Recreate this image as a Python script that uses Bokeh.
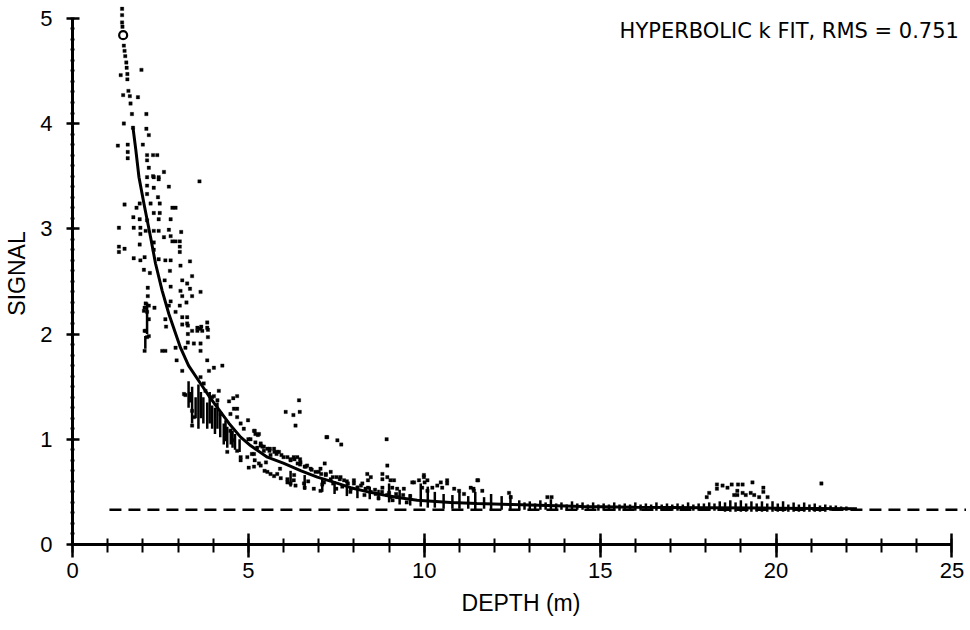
from bokeh.plotting import figure
from bokeh.models import LinearAxis, FixedTicker, Range1d, Label
from bokeh.embed import file_html
from bokeh.resources import INLINE

# ---------------- data ----------------
# fitted hyperbolic curve
curve_x = [1.72, 1.80, 1.89, 2.03, 2.22, 2.36, 2.55, 2.74, 3.07, 3.30, 3.64, 3.90, 4.12, 4.45,
           4.78, 5.06, 5.54, 6.01, 6.50, 6.96, 7.45, 7.91, 8.40, 8.85, 9.30, 9.80, 10.75, 11.5,
           12.5, 13.5, 14.5, 16.0, 18.0, 20.0, 22.3]
curve_y = [3.96, 3.75, 3.49, 3.24, 2.92, 2.67, 2.41, 2.19, 1.87, 1.70, 1.53, 1.40, 1.30, 1.15,
           1.02, 0.94, 0.83, 0.77, 0.70, 0.64, 0.59, 0.54, 0.50, 0.47, 0.445, 0.42, 0.40, 0.39,
           0.38, 0.37, 0.36, 0.355, 0.35, 0.345, 0.34]

# first sample (open circle)
first_x = [1.44]
first_y = [4.84]

# background level (dashed)
base_level = 0.33
base_x = [1.05, 25.4]

# measured samples, shallow column
top_column = [(1.41, 5.09), (1.41, 5.03), (1.41, 4.96), (1.42, 4.92), (1.46, 4.74), (1.48, 4.69),
              (1.50, 4.64), (1.53, 4.58), (1.54, 4.53), (1.56, 4.47), (1.56, 4.42), (1.59, 4.31),
              (1.63, 4.26), (1.65, 4.19), (1.69, 4.09), (1.72, 3.96)]

scatter_upper = [(1.96, 4.51), (1.37, 4.46), (1.44, 4.27), (1.86, 4.25), (2.10, 4.09), (1.46, 4.00),
                 (2.10, 3.95), (2.17, 3.89), (1.29, 3.79), (1.57, 3.80), (2.00, 3.80), (1.57, 3.73),
                 (1.57, 3.67), (2.12, 3.70), (2.29, 3.70), (2.41, 3.70), (2.12, 3.65), (2.17, 3.58),
                 (2.60, 3.54), (2.29, 3.50), (2.45, 3.49), (2.12, 3.49), (2.31, 3.49), (2.45, 3.47),
                 (2.74, 3.40), (3.61, 3.45), (2.12, 3.41), (2.31, 3.39), (2.12, 3.33), (2.43, 3.30),
                 (1.48, 3.23), (1.91, 3.24), (2.22, 3.24), (2.48, 3.24), (1.82, 3.20), (2.31, 3.15),
                 (2.48, 3.15), (2.84, 3.20), (2.93, 3.20), (2.79, 3.09), (1.73, 3.11), (1.91, 3.09),
                 (2.12, 3.08), (2.45, 3.09), (1.32, 3.01), (1.74, 3.01), (1.93, 3.01), (2.08, 2.98),
                 (2.31, 2.98), (2.45, 2.98), (2.74, 2.99), (3.09, 2.97), (1.93, 2.95), (2.60, 2.92),
                 (2.79, 2.93), (2.84, 2.88), (2.93, 2.88), (3.05, 2.88), (1.32, 2.83), (1.48, 2.81),
                 (1.91, 2.85), (2.31, 2.87), (1.32, 2.78), (1.74, 2.72), (1.93, 2.70), (2.05, 2.73),
                 (2.31, 2.80), (2.45, 2.71), (2.64, 2.70), (2.79, 2.70), (3.05, 2.83), (3.05, 2.78),
                 (3.07, 2.65), (3.34, 2.69), (2.03, 2.61), (2.20, 2.58), (2.77, 2.60), (2.62, 2.51),
                 (3.12, 2.51), (3.26, 2.48), (3.40, 2.55), (2.79, 2.45), (3.07, 2.41), (3.34, 2.43),
                 (3.40, 2.36), (3.64, 2.40), (3.12, 2.36), (2.14, 2.44), (2.14, 2.36), (2.05, 2.25),
                 (2.17, 2.27), (2.33, 2.25), (2.03, 2.22), (2.17, 2.14), (2.79, 2.31), (2.74, 2.27),
                 (3.05, 2.27), (3.24, 2.30), (2.93, 2.21), (3.12, 2.16), (3.26, 2.16), (2.64, 2.14),
                 (3.12, 2.09), (3.28, 2.08), (3.55, 2.06), (3.66, 2.07), (3.83, 2.11), (3.28, 2.00),
                 (3.40, 2.03), (3.55, 2.03), (3.69, 2.03), (3.85, 2.04), (2.08, 2.03), (2.17, 1.98),
                 (2.66, 2.07), (3.28, 1.92), (3.45, 1.91), (3.64, 1.91), (3.85, 1.97)]

scatter_mid = [(2.08, 2.29), (2.12, 2.21), (2.05, 2.03), (2.05, 1.84), (2.55, 1.84), (2.64, 1.84),
               (2.12, 1.97), (2.93, 1.87), (2.96, 1.75), (3.12, 1.65), (3.17, 1.43), (3.40, 1.27),
               (3.40, 1.13), (3.45, 1.21), (3.78, 1.46), (3.97, 1.40), (4.12, 1.37), (4.21, 1.24),
               (4.45, 1.36), (4.57, 1.39), (4.68, 1.41), (4.68, 1.29), (4.49, 1.24), (4.78, 1.15),
               (4.99, 1.18), (4.87, 1.10), (5.16, 1.08), (5.30, 1.05), (5.06, 1.00), (4.49, 1.08),
               (4.54, 0.99), (4.68, 0.89), (4.78, 0.83), (4.97, 0.83), (5.35, 0.96), (5.44, 0.93),
               (5.54, 0.91), (5.73, 0.91), (5.87, 0.88), (6.11, 0.83), (6.29, 0.83), (6.39, 0.83),
               (5.16, 0.86), (6.44, 1.37), (6.06, 1.26), (6.28, 1.23), (6.46, 1.26), (6.34, 1.13),
               (7.22, 1.02), (4.68, 1.21), (3.26, 2.10), (3.64, 2.05), (3.83, 2.06), (3.21, 1.87),
               (3.64, 1.84), (3.83, 1.75), (4.02, 1.68), (4.26, 1.70), (3.88, 1.65), (3.64, 1.59),
               (3.73, 1.53), (4.16, 1.46), (4.02, 1.41), (4.59, 1.29), (5.20, 1.05), (3.21, 1.42),
               (4.40, 0.88), (4.78, 0.80), (5.01, 0.73), (5.35, 0.75), (5.54, 0.69), (5.82, 0.67),
               (6.11, 0.62), (6.29, 0.61), (6.58, 0.58), (6.86, 0.53), (7.05, 0.51), (7.15, 0.59),
               (5.25, 0.92), (5.44, 0.89), (5.82, 0.88), (6.48, 0.78), (6.67, 0.75)]

# samples hugging the fitted curve, 5-10 m
scatter_band = [(5.0, 1.00), (5.2, 0.97), (5.4, 0.93), (5.6, 0.89), (5.8, 0.86), (6.0, 0.83),
                (6.2, 0.80), (6.4, 0.77), (6.6, 0.74), (6.8, 0.71), (7.0, 0.69), (7.2, 0.66),
                (7.4, 0.64), (7.6, 0.62), (7.8, 0.60), (8.0, 0.58), (8.2, 0.56), (8.4, 0.54),
                (8.6, 0.52), (8.8, 0.50), (9.0, 0.49), (9.2, 0.48), (9.4, 0.47), (9.6, 0.46),
                (5.1, 0.86), (5.5, 0.78), (5.9, 0.72), (6.3, 0.66), (6.7, 0.60), (7.1, 0.57),
                (7.5, 0.53), (7.9, 0.50), (8.3, 0.47), (8.7, 0.44), (9.1, 0.42), (9.5, 0.40)]

scatter_low = [(7.24, 1.02), (7.53, 0.99), (7.64, 0.95), (8.93, 1.00), (8.95, 0.75), (5.18, 1.08),
               (5.27, 1.04), (5.35, 0.94), (5.61, 0.91), (5.74, 0.88), (5.94, 0.85), (5.63, 0.85),
               (6.20, 0.81), (6.31, 0.81), (6.47, 0.81), (6.47, 0.76), (5.18, 0.80), (5.30, 0.77),
               (5.16, 0.74), (5.46, 0.70), (5.63, 0.67), (5.73, 0.65), (5.92, 0.63), (6.11, 0.59),
               (6.20, 0.58), (6.34, 0.56), (6.60, 0.54), (6.63, 0.74), (6.77, 0.72), (6.91, 0.69),
               (7.05, 0.72), (7.17, 0.77), (7.07, 0.67), (7.20, 0.67), (7.34, 0.69), (7.34, 0.62),
               (7.41, 0.58), (7.51, 0.64), (7.62, 0.64), (7.72, 0.61), (7.67, 0.55), (7.83, 0.58),
               (7.91, 0.53), (8.00, 0.61), (8.10, 0.54), (8.24, 0.58), (8.38, 0.67), (8.48, 0.64),
               (8.40, 0.61), (8.33, 0.53), (8.48, 0.50), (8.62, 0.48), (8.81, 0.67), (8.81, 0.62),
               (8.95, 0.64), (9.04, 0.61), (9.14, 0.61), (9.09, 0.54), (9.23, 0.53), (8.81, 0.54),
               (8.95, 0.47), (9.04, 0.45), (9.23, 0.45), (9.42, 0.53), (9.71, 0.59), (9.85, 0.61),
               (9.99, 0.64), (10.09, 0.61), (9.94, 0.54), (10.09, 0.51), (10.23, 0.54), (10.37, 0.56),
               (10.51, 0.54), (10.65, 0.61), (9.99, 0.66), (10.01, 0.59), (9.66, 0.59), (10.47, 0.59),
               (10.65, 0.58), (10.85, 0.53), (10.99, 0.51), (11.13, 0.48), (11.32, 0.54), (11.41, 0.51),
               (11.53, 0.61), (11.65, 0.51), (12.41, 0.49), (12.46, 0.45), (13.50, 0.45), (13.62, 0.45),
               (11.51, 0.61), (11.40, 0.53)]

scatter_far = [(18.10, 0.49), (18.03, 0.45), (18.32, 0.57), (18.32, 0.53), (18.48, 0.56), (18.62, 0.54),
               (18.74, 0.57), (18.92, 0.57), (19.05, 0.57), (19.33, 0.59), (18.90, 0.51), (18.90, 0.47),
               (18.81, 0.47), (19.05, 0.49), (19.14, 0.47), (19.28, 0.49), (19.38, 0.47), (19.64, 0.54),
               (19.64, 0.50), (19.76, 0.45), (19.52, 0.45), (21.29, 0.58)]

# vertical clusters of samples: depth, lowest, highest signal
streak_x = [2.12, 2.07, 3.30, 3.35, 3.40, 3.50, 3.58, 3.65, 3.72, 3.83, 3.90, 3.97, 4.05, 4.12,
            4.20, 4.30, 4.35, 4.40, 4.50, 4.55, 4.62, 4.75,
            6.2, 6.6, 7.1, 7.45, 7.8, 8.1, 8.45, 8.7, 9.0, 9.3, 9.6, 9.9, 10.1, 10.3, 10.55,
            10.8, 11.0, 11.25, 11.45, 11.7, 11.9, 12.2, 12.45, 12.7, 13.0, 13.3, 13.6, 13.9,
            14.2, 14.5, 14.8, 15.1, 15.4, 15.7, 16.0, 16.3, 16.6, 16.9, 17.2, 17.5, 17.8, 18.1,
            18.4, 18.7, 19.0, 19.3, 19.6, 19.9, 20.2, 20.5, 20.8, 21.1, 21.4, 21.7, 22.0,
            12.85, 13.15, 13.45, 13.75, 14.05, 14.35, 14.65, 14.95, 15.25, 15.55, 15.85, 16.15,
            16.45, 16.75, 17.05, 17.35, 17.65, 17.95, 18.25, 18.55, 18.85, 19.15, 19.45, 19.75,
            20.05, 20.35, 20.65, 20.95, 21.25, 21.55, 21.85]
streak_lo = [2.00, 1.86, 1.30, 1.35, 1.15, 1.20, 1.10, 1.20, 1.15, 1.10, 1.15, 1.10, 1.05, 1.10,
             1.02, 0.95, 0.98, 0.92, 0.95, 0.92, 0.90, 0.88,
             0.55, 0.52, 0.50, 0.48, 0.46, 0.44, 0.43, 0.42, 0.40, 0.38, 0.37, 0.36, 0.35, 0.35, 0.34,
             0.34, 0.34, 0.34, 0.33, 0.34, 0.33, 0.33, 0.33, 0.33, 0.33, 0.33, 0.33, 0.33,
             0.32, 0.33, 0.32, 0.32, 0.32, 0.32, 0.32, 0.32, 0.32, 0.32, 0.32, 0.32, 0.32, 0.32,
             0.32, 0.31, 0.31, 0.31, 0.31, 0.31, 0.31, 0.31, 0.31, 0.31, 0.31, 0.32, 0.32,
             0.33, 0.33, 0.33, 0.32, 0.32, 0.33, 0.32, 0.32, 0.32, 0.32, 0.32, 0.32,
             0.32, 0.32, 0.32, 0.32, 0.32, 0.32, 0.32, 0.31, 0.31, 0.31, 0.31, 0.31,
             0.31, 0.31, 0.31, 0.31, 0.31, 0.32, 0.32]
streak_hi = [2.30, 1.98, 1.55, 1.45, 1.50, 1.40, 1.52, 1.45, 1.40, 1.35, 1.45, 1.32, 1.30, 1.35,
             1.25, 1.15, 1.18, 1.12, 1.10, 1.08, 1.05, 1.00,
             0.70, 0.66, 0.62, 0.60, 0.58, 0.56, 0.55, 0.52, 0.58, 0.52, 0.48, 0.58, 0.55, 0.50, 0.48,
             0.47, 0.50, 0.46, 0.50, 0.45, 0.48, 0.46, 0.47, 0.42, 0.41, 0.42, 0.43, 0.40,
             0.41, 0.40, 0.40, 0.39, 0.40, 0.39, 0.40, 0.39, 0.40, 0.39, 0.39, 0.40, 0.39, 0.40,
             0.41, 0.42, 0.42, 0.41, 0.41, 0.41, 0.41, 0.40, 0.40, 0.39, 0.38, 0.37, 0.36,
             0.40, 0.39, 0.40, 0.39, 0.38, 0.39, 0.38, 0.38, 0.38, 0.38, 0.38, 0.38,
             0.38, 0.38, 0.38, 0.38, 0.38, 0.39, 0.39, 0.40, 0.40, 0.39, 0.39, 0.39,
             0.39, 0.38, 0.38, 0.38, 0.37, 0.37, 0.36]

x_ticks = [0, 5, 10, 15, 20, 25]
y_ticks = [0, 1, 2, 3, 4, 5]
title_text = "HYPERBOLIC k FIT, RMS = 0.751"
x_label = "DEPTH (m)"
y_label = "SIGNAL"

# ---------------- figure ----------------
FONT = "Liberation Sans"
p = figure(width=970, height=630, output_backend="svg", toolbar_location=None,
           x_range=Range1d(0, 25.5), y_range=Range1d(0, 5.15),
           x_axis_location=None, y_axis_location=None,
           min_border_left=72, min_border_right=1, min_border_top=2, min_border_bottom=86)
p.outline_line_color = None
p.background_fill_color = "white"
p.border_fill_color = "white"
p.xgrid.visible = False
p.ygrid.visible = False

xaxis = LinearAxis(bounds=(0, 25),
                   ticker=FixedTicker(ticks=x_ticks, minor_ticks=list(range(0, 26))))
xaxis.axis_line_width = 3
xaxis.major_tick_in = 11
xaxis.major_tick_out = 13
xaxis.major_tick_line_width = 2.5
xaxis.minor_tick_in = 6
xaxis.minor_tick_out = 8
xaxis.minor_tick_line_width = 2
xaxis.major_label_text_font = FONT
xaxis.major_label_text_font_size = "22px"
xaxis.major_label_text_color = "black"
xaxis.major_label_standoff = 5
xaxis.axis_label = x_label
xaxis.axis_label_text_font = FONT
xaxis.axis_label_text_font_size = "23px"
xaxis.axis_label_text_font_style = "normal"
xaxis.axis_label_text_color = "black"
xaxis.axis_label_standoff = 9
p.add_layout(xaxis, "below")

yaxis = LinearAxis(bounds=(0, 5),
                   ticker=FixedTicker(ticks=y_ticks, minor_ticks=[i / 10 for i in range(0, 51)]))
yaxis.axis_line_width = 3
yaxis.major_tick_in = 7
yaxis.major_tick_out = 6
yaxis.major_tick_line_width = 2.5
yaxis.minor_tick_in = 2
yaxis.minor_tick_out = 2
yaxis.minor_tick_line_width = 2
yaxis.major_label_text_font = FONT
yaxis.major_label_text_font_size = "22px"
yaxis.major_label_text_color = "black"
yaxis.major_label_standoff = 14
yaxis.axis_label = y_label
yaxis.axis_label_text_font = FONT
yaxis.axis_label_text_font_size = "23px"
yaxis.axis_label_text_font_style = "normal"
yaxis.axis_label_text_color = "black"
yaxis.axis_label_standoff = 7
p.add_layout(yaxis, "left")

# dashed background level
p.line(base_x, [base_level, base_level], line_color="black", line_width=2.5, line_dash="12 7")

# vertical clusters
p.segment(x0=streak_x, y0=streak_lo, x1=streak_x, y1=streak_hi, line_color="black", line_width=2.5)

# samples
pts = top_column + scatter_upper + scatter_mid + scatter_band + scatter_low + scatter_far
p.scatter([a for a, b in pts], [b for a, b in pts], marker="square", size=3.4,
          fill_color="black", line_color="black", line_width=0.3)

# fitted curve
p.line(curve_x, curve_y, line_color="black", line_width=3)

# first sample
p.scatter(first_x, first_y, marker="circle", size=8, fill_color="white",
          line_color="black", line_width=2.2)

p.add_layout(Label(x=25.2, y=4.88, text=title_text, text_align="right",
                   text_baseline="alphabetic", text_font="DejaVu Sans", text_font_size="21px",
                   text_color="black"))

open("out.html", "w").write(file_html(p, INLINE))
